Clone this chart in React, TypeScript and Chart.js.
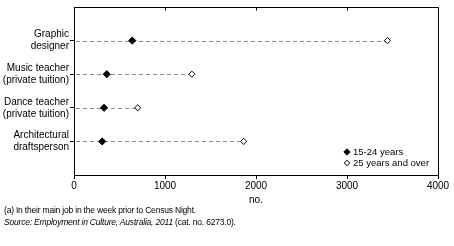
import React, { useEffect, useRef } from "react";
import { Chart, registerables } from "chart.js";

Chart.register(...registerables);

const categories: string[][] = [
  ["Graphic", "designer"],
  ["Music teacher", "(private tuition)"],
  ["Dance teacher", "(private tuition)"],
  ["Architectural", "draftsperson"],
];
// vertical slot of each category on the value axis (top to bottom)
const positions: number[] = [4, 3, 2, 1];
const young: number[] = [640, 360, 330, 310];
const older: number[] = [3445, 1295, 700, 1865];
const seriesNames: string[] = ["15-24 years", "25 years and over"];
const xTicks: number[] = [0, 1000, 2000, 3000, 4000];

const FONT = "'Liberation Sans', Arial, sans-serif";

export default function App() {
  const ref = useRef<HTMLCanvasElement | null>(null);

  useEffect(() => {
    if (!ref.current) return;
    Chart.defaults.font.family = FONT;
    Chart.defaults.color = "#000";

    const dashPlugin = {
      id: "dashes",
      beforeDatasetsDraw(chart: any) {
        const { ctx, scales } = chart;
        const xs = scales.x;
        const ys = scales.y;
        ctx.save();
        ctx.strokeStyle = "#8a8a8a";
        ctx.lineWidth = 1;
        ctx.setLineDash([4, 3]);
        categories.forEach((_, i) => {
          const y = Math.round(ys.getPixelForValue(positions[i])) + 0.5;
          const x0 = xs.getPixelForValue(0) + 2;
          const x1 = xs.getPixelForValue(Math.max(young[i], older[i]));
          ctx.beginPath();
          ctx.moveTo(x0, y);
          ctx.lineTo(x1, y);
          ctx.stroke();
        });
        ctx.restore();
      },
    };

    const framePlugin = {
      id: "frame",
      afterDraw(chart: any) {
        const { ctx, chartArea, scales } = chart;
        const { left, right, top, bottom } = chartArea;
        ctx.save();
        ctx.strokeStyle = "#000";
        ctx.lineWidth = 1;
        ctx.setLineDash([]);
        const t = Math.round(top) + 0.5;
        const r = Math.round(right) + 0.5;
        ctx.beginPath();
        ctx.moveTo(Math.round(left), t);
        ctx.lineTo(r, t);
        ctx.lineTo(r, Math.round(bottom) + 1);
        ctx.stroke();
        // inner ticks on top edge
        xTicks.forEach((v) => {
          const x = Math.round(scales.x.getPixelForValue(v)) + 0.5;
          ctx.beginPath();
          ctx.moveTo(x, t);
          ctx.lineTo(x, t + 3);
          ctx.stroke();
        });
        // legend
        const lx = right - 91;
        const rows = [bottom - 23, bottom - 12];
        ctx.font = `9.5px ${FONT}`;
        ctx.textBaseline = "middle";
        ctx.textAlign = "left";
        rows.forEach((y, i) => {
          const s = i === 0 ? 3.2 : 2.8;
          ctx.beginPath();
          ctx.moveTo(lx, y - s);
          ctx.lineTo(lx + s, y);
          ctx.lineTo(lx, y + s);
          ctx.lineTo(lx - s, y);
          ctx.closePath();
          ctx.fillStyle = i === 0 ? "#000" : "#fff";
          ctx.fill();
          ctx.strokeStyle = "#000";
          ctx.stroke();
          ctx.fillStyle = "#000";
          ctx.fillText(seriesNames[i], lx + 6, y + 0.5);
        });
        ctx.restore();
      },
    };

    const chart = new Chart(ref.current, {
      type: "scatter",
      data: {
        datasets: [
          {
            label: seriesNames[0],
            data: young.map((v, i) => ({ x: v, y: positions[i] })),
            pointStyle: "rectRot",
            pointRadius: 3.6,
            backgroundColor: "#000",
            borderColor: "#000",
            borderWidth: 1,
          },
          {
            label: seriesNames[1],
            data: older.map((v, i) => ({ x: v, y: positions[i] })),
            pointStyle: "rectRot",
            pointRadius: 3.1,
            backgroundColor: "#fff",
            borderColor: "#000",
            borderWidth: 1,
          },
        ],
      },
      options: {
        animation: false,
        responsive: true,
        maintainAspectRatio: false,
        layout: { padding: { left: 0, right: 16, top: 5, bottom: 36 } },
        plugins: {
          legend: { display: false },
          tooltip: { enabled: false },
        },
        scales: {
          x: {
            type: "linear",
            min: 0,
            max: 4000,
            afterBuildTicks: (axis: any) => {
              axis.ticks = xTicks.map((v) => ({ value: v }));
            },
            afterFit: (axis: any) => {
              axis.height = 35;
            },
            ticks: {
              font: { size: 10 },
              color: "#000",
              padding: 1,
              maxRotation: 0,
              callback: (value: any) => String(value),
            },
            grid: {
              drawOnChartArea: false,
              tickLength: 4,
              color: "#000",
            },
            border: { color: "#000", width: 1 },
            title: {
              display: true,
              text: "no.",
              font: { size: 10 },
              color: "#000",
              padding: { top: 0, bottom: 4 },
            },
          },
          y: {
            type: "linear",
            min: 0,
            max: 5,
            afterBuildTicks: (axis: any) => {
              axis.ticks = [0, 1, 2, 3, 4, 5].map((v) => ({ value: v }));
            },
            afterFit: (axis: any) => {
              axis.width = 74;
            },
            ticks: {
              font: { size: 10 },
              color: "#000",
              padding: 1,
              callback: (value: any) => {
                const idx = positions.indexOf(Number(value));
                return idx >= 0 ? categories[idx] : "";
              },
            },
            grid: {
              drawOnChartArea: false,
              tickLength: 4,
              color: (ctx: any) =>
                ctx.tick && ctx.tick.value >= 1 && ctx.tick.value <= 4 ? "#000" : "rgba(0,0,0,0)",
            },
            border: { color: "#000", width: 1 },
          },
        },
      },
      plugins: [dashPlugin, framePlugin],
    });

    return () => chart.destroy();
  }, []);

  const noteStyle: React.CSSProperties = {
    position: "absolute",
    left: 4,
    fontFamily: FONT,
    fontSize: "8.5px",
    letterSpacing: "-0.2px",
    color: "#000",
    whiteSpace: "nowrap",
    lineHeight: "10px",
  };

  return (
    <div style={{ position: "absolute", left: 0, top: 0, width: 454, height: 246, background: "#fff" }}>
      <canvas ref={ref} />
      <div style={{ ...noteStyle, top: 205 }}>(a) In their main job in the week prior to Census Night.</div>
      <div style={{ ...noteStyle, top: 217 }}>
        <i>Source: Employment in Culture, Australia, 2011</i> (cat. no. 6273.0).
      </div>
    </div>
  );
}
